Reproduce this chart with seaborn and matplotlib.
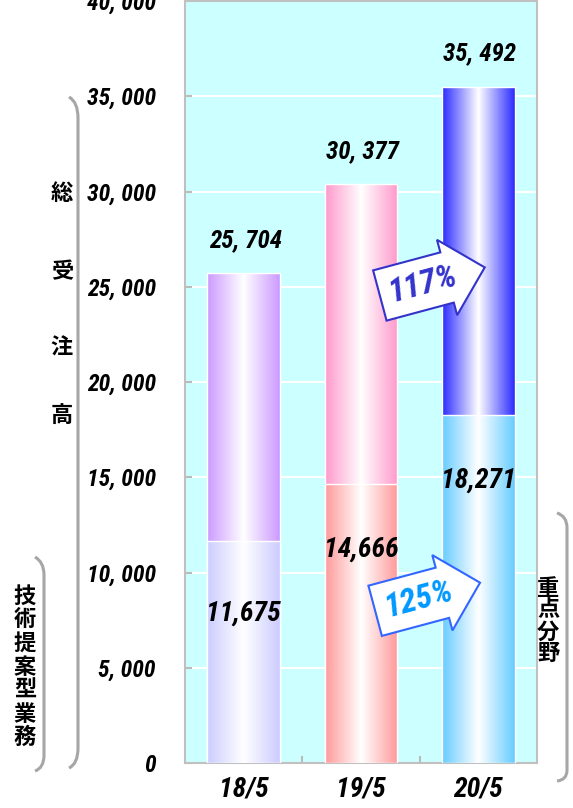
import numpy as np
import pandas as pd
import matplotlib.pyplot as plt
import seaborn as sns
from matplotlib.colors import LinearSegmentedColormap
from matplotlib.path import Path
from matplotlib.patches import PathPatch

months = ["18/5", "19/5", "20/5"]
total_orders = [25704, 30377, 35492]
focus_orders = [11675, 14666, 18271]
total_colors = ["#CC99FF", "#FF99CC", "#2B2BFF"]
focus_colors = ["#CCCCFF", "#FF9999", "#66CCFF"]
growth_total = "117%"
growth_focus = "125%"

NUM_FONT = ["Roboto Condensed", "Roboto", "Noto Sans CJK JP"]
JP_FONT = ["Noto Sans CJK JP", "DejaVu Sans"]
W, H = 573, 808

df = pd.DataFrame({"month": months, "total": total_orders, "focus": focus_orders})

sns.set_theme(style="white")
plt.rcParams["font.family"] = JP_FONT
plt.rcParams["text.color"] = "black"

fig = plt.figure(figsize=(W / 100, H / 100), dpi=100)
ax = fig.add_axes([185 / W, 45 / H, 352 / W, 762 / H])
ax.set_facecolor("#CCFFFF")
ax.set_axisbelow(True)
ax.grid(axis="y", color="white", lw=1.5)


def gradient_fill(patches, colors, z):
    for patch, c in zip(patches, colors):
        x0, y0 = patch.get_x(), patch.get_y()
        w, h = patch.get_width(), patch.get_height()
        cmap = LinearSegmentedColormap.from_list("grad", [c, "white", c])
        im = ax.imshow(np.linspace(0, 1, 256)[None, :], cmap=cmap, aspect="auto",
                       extent=(x0, x0 + w, y0, y0 + h), zorder=z,
                       interpolation="bilinear")
        im.set_clip_path(patch)
        patch.set_facecolor("none")
        patch.set_edgecolor("white")
        patch.set_linewidth(1.0)
        patch.set_zorder(z + 0.1)


sns.barplot(data=df, x="month", y="total", width=0.62, errorbar=None, ax=ax)
gradient_fill(ax.patches[:3], total_colors, 2)
sns.barplot(data=df, x="month", y="focus", width=0.62, errorbar=None, ax=ax)
gradient_fill(ax.patches[3:6], focus_colors, 3)

ax.set_xlim(-0.5, 2.5)
ax.set_ylim(0, 40000)
ax.set_xlabel("")
ax.set_ylabel("")

num_kw = dict(fontfamily=NUM_FONT, fontweight="bold", fontstyle="italic")
yt = list(range(0, 40001, 5000))
ax.set_yticks(yt)
ax.set_yticklabels(["0" if v == 0 else f"{v:,}".replace(",", ", ") for v in yt],
                   fontsize=17, **num_kw)
ax.tick_params(axis="y", direction="in", length=5, color="#BBBBBB", width=1.5,
               pad=21, left=True, labelcolor="black")
ax.set_xticks(range(len(months)))
ax.set_xticklabels(months, fontsize=20, **num_kw)
ax.tick_params(axis="x", length=0, pad=9, labelcolor="black")
ax.set_xticks([0.5, 1.5], minor=True)
ax.tick_params(axis="x", which="minor", direction="in", length=5,
               color="#BBBBBB", width=1.5, bottom=True)
for s in ax.spines.values():
    s.set_color("#C0C0C0")
    s.set_linewidth(1.5)

for i, v in enumerate(total_orders):
    ax.annotate(f"{v:,}".replace(",", ", "), (i, v), xytext=(1, 24),
                textcoords="offset points", ha="center", va="center",
                fontsize=18, zorder=6, **num_kw)
for i, v in enumerate(focus_orders):
    ax.annotate(f"{v:,}", (i, v), xytext=(0, -52 if i == 0 else -47),
                textcoords="offset points", ha="center", va="center",
                fontsize=20, zorder=6, **num_kw)

ax.text(1.53, 25150, growth_total, rotation=15, ha="center", va="center",
        color="#3333CC", fontsize=24, zorder=7, **num_kw,
        bbox=dict(boxstyle="rarrow,pad=0.3", fc="white", ec="#3333CC", lw=1.5))
ax.text(1.49, 8600, growth_focus, rotation=15, ha="center", va="center",
        color="#0099FF", fontsize=24, zorder=7, **num_kw,
        bbox=dict(boxstyle="rarrow,pad=0.3", fc="white", ec="#3366FF", lw=1.5))


def bracket(points):
    verts = [(x / W, 1 - y / H) for x, y in points]
    codes = [Path.MOVETO, Path.CURVE3, Path.CURVE3, Path.LINETO,
             Path.CURVE3, Path.CURVE3]
    fig.add_artist(PathPatch(Path(verts, codes), transform=fig.transFigure,
                             fill=False, ec="#A6A6A6", lw=2.2))


bracket([(69, 97), (78, 102), (78, 118), (78, 748), (78, 764), (69, 768)])
bracket([(35, 557), (44, 562), (44, 575), (44, 755), (44, 768), (35, 771)])
bracket([(557, 513), (567, 516), (567, 528), (567, 770), (567, 780), (557, 781)])

for ch, y in zip("総受注高", [193, 272, 348, 415]):
    fig.text(62 / W, 1 - y / H, ch, ha="center", va="center",
             fontsize=16, fontweight="bold")
fig.text(25 / W, 1 - 667 / H, "\n".join("技術提案型業務"), ha="center",
         va="center", fontsize=16, fontweight="bold", linespacing=1.03)
fig.text(548 / W, 1 - 621 / H, "\n".join("重点分野"), ha="center",
         va="center", fontsize=16, fontweight="bold", linespacing=0.94)

fig.savefig("out.png", dpi=100)
